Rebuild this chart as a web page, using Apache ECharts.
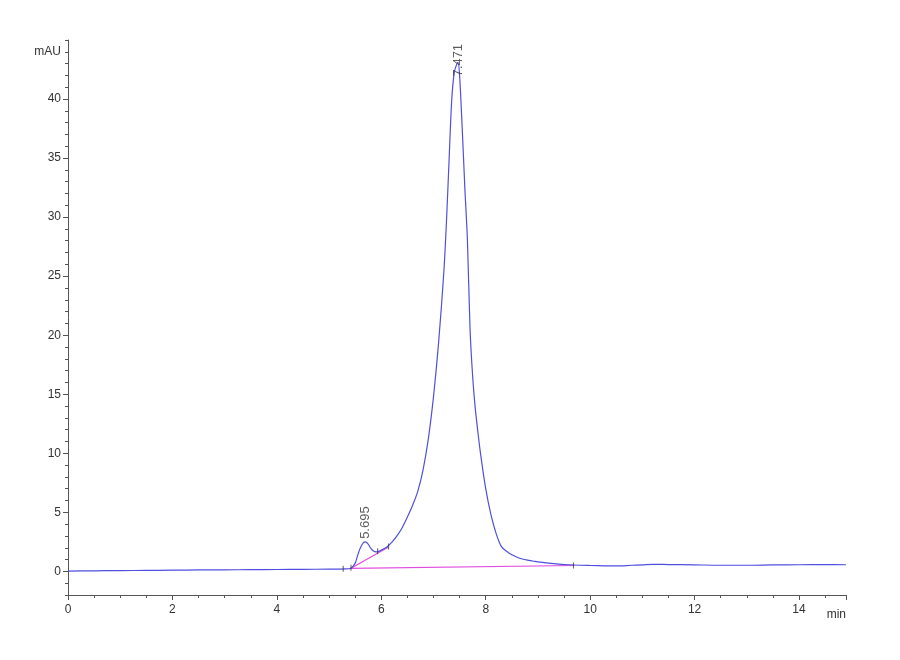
<!DOCTYPE html>
<html>
    <head>
        <meta charset="utf-8">
        <script src="https://cdn.jsdelivr.net/npm/echarts@6/dist/echarts.min.js"></script>
    </head>
    <body>
        <style>
            html, body, #main {
                width: 100%;
                height: 100%;
                margin: 0;
                background: #fff;
            }
        </style>
        <div id="main"></div>
        <script>
            // retention time (min) and absorbance (mAU)
            var times = [
                0.0, 0.5, 1.0, 1.5, 2.0, 2.5, 3.0, 3.5, 4.0, 4.5, 5.0, 5.3,
                5.42, 5.5, 5.55, 5.6, 5.65, 5.695, 5.75, 5.8, 5.85, 5.9, 5.95,
                6.0, 6.1, 6.2, 6.3, 6.4, 6.5, 6.6, 6.7, 6.8, 6.9, 7.0, 7.1,
                7.2, 7.25, 7.3, 7.35, 7.4, 7.45, 7.471, 7.5, 7.55, 7.6, 7.65,
                7.7, 7.75, 7.8, 7.85, 7.9, 8.0, 8.1, 8.2, 8.3, 8.4, 8.5, 8.6,
                8.7, 8.8, 8.9, 9.0, 9.2, 9.4, 9.6, 9.8, 10.0, 10.5, 10.8, 11.0,
                11.2, 11.5, 12.0, 12.5, 13.0, 13.5, 14.0, 14.5, 14.9
            ];
            var signal = [
                0.03, 0.05, 0.07, 0.08, 0.10, 0.12, 0.13, 0.15, 0.16, 0.17, 0.19, 0.21,
                0.27, 0.70, 1.40, 2.00, 2.40, 2.50, 2.30, 1.95, 1.72, 1.65, 1.70,
                1.80, 2.05, 2.45, 3.00, 3.70, 4.60, 5.60, 6.80, 8.60, 11.2, 14.8, 19.5,
                25.5, 29.8, 35.0, 40.0, 42.3, 43.0, 43.1, 42.0, 37.5, 32.5, 28.0,
                20.5, 16.5, 13.8, 11.8, 10.0, 7.0, 4.8, 3.2, 2.1, 1.7, 1.4, 1.2,
                1.05, 0.95, 0.88, 0.80, 0.70, 0.62, 0.56, 0.52, 0.50, 0.46, 0.52, 0.55,
                0.60, 0.58, 0.55, 0.52, 0.52, 0.55, 0.56, 0.57, 0.56
            ];

            // integration baselines drawn by the software
            var mainBaseline = [[5.40, 0.25], [9.70, 0.50]];
            var shoulderBaseline = [[5.42, 0.27], [6.14, 2.07]];
            // start / end marks of the integration events
            var eventMarks = [[5.27, 0.22], [5.42, 0.30], [5.93, 1.70], [6.14, 2.10], [9.68, 0.50]];

            // peak apex labels
            var peakTimes = [5.695, 7.471];
            var peakHeights = [2.50, 43.1];
            var peakOffsets = [3, -14];

            var majorTicks = [0, 5, 10, 15, 20, 25, 30, 35, 40];

            var trace = times.map(function (t, i) { return [t, signal[i]]; });
            var peaks = peakTimes.map(function (t, i) {
                return {
                    value: [t, peakHeights[i]],
                    label: { distance: peakOffsets[i] }
                };
            });

            var chart = echarts.init(document.getElementById('main'));

            var axisColor = '#555';
            var labelColor = '#333';
            var font = 'Liberation Sans';

            chart.setOption({
                animation: false,
                grid: {
                    left: 68,
                    right: 54,
                    top: 40,
                    bottom: 65
                },
                xAxis: {
                    type: 'value',
                    min: 0,
                    max: 14.9,
                    interval: 2,
                    name: 'min',
                    nameLocation: 'end',
                    nameGap: 0,
                    nameTextStyle: {
                        color: labelColor,
                        fontFamily: font,
                        fontSize: 12,
                        align: 'right',
                        verticalAlign: 'top',
                        padding: [14, 0, 0, 0]
                    },
                    axisLine: { onZero: false, lineStyle: { color: axisColor } },
                    axisTick: { length: 5, lineStyle: { color: axisColor } },
                    minorTick: { show: true, splitNumber: 4, length: 3, lineStyle: { color: axisColor } },
                    axisLabel: {
                        color: labelColor,
                        fontFamily: font,
                        fontSize: 12,
                        margin: 9,
                        showMaxLabel: false
                    },
                    splitLine: { show: false }
                },
                yAxis: [{
                    type: 'value',
                    min: -2,
                    max: 45,
                    name: 'mAU',
                    nameLocation: 'end',
                    nameGap: -12,
                    nameTextStyle: {
                        color: labelColor,
                        fontFamily: font,
                        fontSize: 12,
                        align: 'right',
                        verticalAlign: 'middle',
                        padding: [0, 7, 0, 0]
                    },
                    axisLine: { show: true, lineStyle: { color: axisColor } },
                    axisTick: {
                        show: true,
                        length: 5,
                        customValues: majorTicks,
                        lineStyle: { color: axisColor }
                    },
                    axisLabel: {
                        color: labelColor,
                        fontFamily: font,
                        fontSize: 12,
                        margin: 7,
                        customValues: majorTicks
                    },
                    splitLine: { show: false }
                }, {
                    // minor ticks every 1 mAU
                    type: 'value',
                    position: 'left',
                    min: -2,
                    max: 45,
                    interval: 1,
                    axisLine: { show: false },
                    axisTick: { show: true, length: 3, lineStyle: { color: axisColor } },
                    axisLabel: { show: false },
                    splitLine: { show: false }
                }],
                series: [{
                    name: 'baseline',
                    type: 'line',
                    data: mainBaseline,
                    symbol: 'none',
                    lineStyle: { color: '#e04ce0', width: 1.2 },
                    z: 2
                }, {
                    name: 'shoulder baseline',
                    type: 'line',
                    data: shoulderBaseline,
                    symbol: 'none',
                    lineStyle: { color: '#e04ce0', width: 1.2 },
                    z: 2
                }, {
                    name: 'signal',
                    type: 'line',
                    data: trace,
                    symbol: 'none',
                    smooth: 0.3,
                    lineStyle: { color: '#4f4fe0', width: 1.2 },
                    z: 3
                }, {
                    name: 'events',
                    type: 'scatter',
                    data: eventMarks,
                    symbol: 'rect',
                    symbolSize: [1, 6],
                    itemStyle: { color: '#333' },
                    z: 4
                }, {
                    name: 'peaks',
                    type: 'scatter',
                    data: peaks,
                    symbolSize: 0,
                    label: {
                        show: true,
                        position: 'top',
                        rotate: 90,
                        align: 'left',
                        verticalAlign: 'middle',
                        color: '#333',
                        fontFamily: font,
                        fontSize: 13,
                        formatter: function (p) { return p.value[0].toFixed(3); }
                    },
                    z: 5
                }]
            });
        </script>
    </body>
</html>
